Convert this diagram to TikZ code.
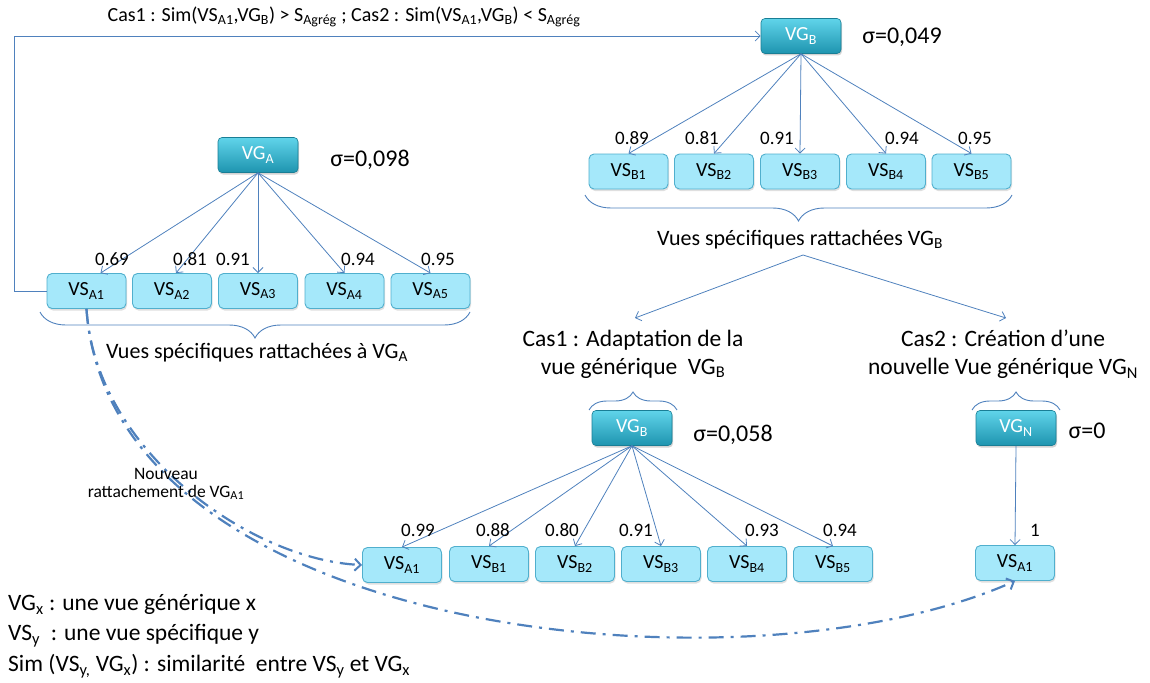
\documentclass[tikz,border=0pt]{standalone}
\usepackage{fontspec}
\setmainfont{Carlito}
\usetikzlibrary{arrows.meta,decorations.pathreplacing,shadows}
\definecolor{lineblue}{RGB}{79,129,189}
\definecolor{vgtop}{RGB}{96,212,234}
\definecolor{vgbot}{RGB}{30,148,175}
\definecolor{vsfill}{RGB}{165,232,250}
\definecolor{vsdraw}{RGB}{80,175,205}
\newcommand{\sbs}[1]{\textsubscript{#1}}
\begin{document}
\begin{tikzpicture}[x=1pt,y=-1pt,
  vgbox/.style={rounded corners=4pt, minimum width=80pt, minimum height=35pt, inner sep=0pt,
    top color=vgtop, bottom color=vgbot, draw=vgbot!85!black, line width=0.6pt, text=white,
    font=\fontsize{20}{22}\selectfont,
    drop shadow={opacity=0.35,shadow xshift=1pt,shadow yshift=-2pt}},
  vsbox/.style={rounded corners=5pt, minimum width=79pt, minimum height=35pt, inner sep=0pt,
    fill=vsfill, draw=vsdraw, line width=0.9pt, font=\fontsize{20}{22}\selectfont,
    drop shadow={opacity=0.25,shadow xshift=1pt,shadow yshift=-2pt}},
  conn/.style={draw=lineblue, line width=0.8pt, -{Straight Barb[length=5pt,width=10pt]}},
  dd/.style={draw=lineblue, line width=2.2pt, dash pattern=on 15pt off 7pt on 3pt off 7pt,
    -{Straight Barb[length=6pt,width=12pt,line width=2pt]}},
  wlab/.style={font=\fontsize{19}{22}\selectfont, inner sep=0pt},
  sig/.style={font=\fontsize{24}{28}\selectfont, inner sep=0pt},
  big/.style={font=\fontsize{22}{28}\selectfont, inner sep=0pt, align=center},
  cas/.style={font=\fontsize{23.5}{28}\selectfont, inner sep=0pt, align=center},
  brc/.style={draw=lineblue, line width=0.9pt, decorate, decoration={brace, amplitude=#1}},
]
\useasboundingbox (0,0) rectangle (1150,682);

% ---------- Tree A ----------
\node[vgbox] (vga) at (258,155) {VG\sbs{A}};
\node[sig] (siga) at (370,160) {σ=0,098};
\node[vsbox] (vsa1) at (86.5,291) {VS\sbs{A1}};
\node[vsbox] (vsa2) at (172,291) {VS\sbs{A2}};
\node[vsbox] (vsa3) at (258,291) {VS\sbs{A3}};
\node[vsbox] (vsa4) at (344.5,291) {VS\sbs{A4}};
\node[vsbox] (vsa5) at (430.5,291) {VS\sbs{A5}};
\draw[conn] (vga.south) -- ([xshift=14pt]vsa1.north);
\draw[conn] (vga.south) -- ([xshift=4pt]vsa2.north);
\draw[conn] (vga.south) -- (vsa3.north);
\draw[conn] (vga.south) -- (vsa4.north);
\draw[conn] (vga.south) -- (vsa5.north);
\node[wlab] (la1) at (112,259) {0.69};
\node[wlab] (la2) at (190,259) {0.81};
\node[wlab] (la3) at (233,259) {0.91};
\node[wlab] (la4) at (358,259) {0.94};
\node[wlab] (la5) at (438,259) {0.95};
\draw[brc=26pt] (470,312) -- (40,312);
\node[big] (rta) at (257,353) {Vues spécifiques rattachées à VG\sbs{A}};

% ---------- Top connector ----------
\node[font=\fontsize{20}{22}\selectfont, inner sep=0pt] (cond) at (344,17)
  {Cas1 : Sim(VS\sbs{A1},VG\sbs{B}) > S\sbs{Agrég} ; Cas2 : Sim(VS\sbs{A1},VG\sbs{B}) < S\sbs{Agrég}};

% ---------- Tree B ----------
\node[vgbox] (vgb) at (801,36) {VG\sbs{B}};
\node[sig] (sigb) at (902,37) {σ=0,049};
\draw[conn] (vsa1.west) -- ++(-32,0) |- (vgb.west);
\node[vsbox] (vsb1) at (628.5,171.5) {VS\sbs{B1}};
\node[vsbox] (vsb2) at (714,171.5) {VS\sbs{B2}};
\node[vsbox] (vsb3) at (800,171.5) {VS\sbs{B3}};
\node[vsbox] (vsb4) at (886,171.5) {VS\sbs{B4}};
\node[vsbox] (vsb5) at (971.5,171.5) {VS\sbs{B5}};
\foreach \i in {1,...,5} {\draw[conn] (vgb.south) -- (vsb\i.north);}
\node[wlab] (lb1) at (632,138) {0.89};
\node[wlab] (lb2) at (702,138) {0.81};
\node[wlab] (lb3) at (777,138) {0.91};
\node[wlab] (lb4) at (902,138) {0.94};
\node[wlab] (lb5) at (975,138) {0.95};
\draw[brc=26pt] (1012,195) -- (585,195);
\node[big] (rtb) at (800,240) {Vues spécifiques rattachées VG\sbs{B}};

% ---------- Split ----------
\coordinate (apex) at (803,255);
\coordinate (t1) at (635,318);
\coordinate (t2) at (1006,318);
\draw[conn] (apex) -- (t1);
\draw[conn] (apex) -- (t2);
\node[cas] (cas1) at (633,354) {Cas1 : Adaptation de la\\vue générique \ VG\sbs{B}};
\node[cas] (cas2) at (1003,354) {Cas2 : Création d’une\\nouvelle Vue générique VG\sbs{N}};
\draw[brc=18pt] (589,410) -- (677,410);
\draw[brc=18pt] (972,410) -- (1060,410);

% ---------- Case 1 tree ----------
\node[vgbox] (vgb2) at (632,428) {VG\sbs{B}};
\node[sig] (sigb2) at (733,435) {σ=0,058};
\node[vsbox] (vsa1b) at (402,565) {VS\sbs{A1}};
\node[vsbox] (vsb1b) at (489,564) {VS\sbs{B1}};
\node[vsbox] (vsb2b) at (575,564) {VS\sbs{B2}};
\node[vsbox] (vsb3b) at (661,564) {VS\sbs{B3}};
\node[vsbox] (vsb4b) at (747,564) {VS\sbs{B4}};
\node[vsbox] (vsb5b) at (833,564) {VS\sbs{B5}};
\foreach \n in {vsa1b,vsb1b,vsb2b,vsb3b,vsb4b,vsb5b} {\draw[conn] (vgb2.south) -- (\n.north);}
\node[wlab] (lc1) at (418,530) {0.99};
\node[wlab] (lc2) at (493,530) {0.88};
\node[wlab] (lc3) at (562,530) {0.80};
\node[wlab] (lc4) at (636,530) {0.91};
\node[wlab] (lc5) at (762,530) {0.93};
\node[wlab] (lc6) at (840,530) {0.94};

% ---------- Case 2 tree ----------
\node[vgbox] (vgn) at (1016,428) {VG\sbs{N}};
\node[sig] (sign) at (1087,431) {σ=0};
\node[vsbox] (vsn1) at (1015,563) {VS\sbs{A1}};
\draw[conn] (vgn.south) -- (vsn1.north);
\node[wlab] (ln1) at (1035,530) {1};

% ---------- Reattachment curves ----------
\draw[dd] (vsa1.south) .. controls (95,450) and (250,560) .. (vsa1b.west);
\draw[dd] (vsa1.south) .. controls (110,640) and (750,700) .. (vsn1.south);
\node[font=\fontsize{17.5}{18}\selectfont, align=center, inner sep=0pt] (nouv) at (166,484)
  {Nouveau\\rattachement de VG\sbs{A1}};

% ---------- Legend ----------
\node[font=\fontsize{23.5}{30.5}\selectfont, align=left, anchor=north west, inner sep=0pt] (leg) at (8,594)
  {VG\sbs{x} : une vue générique x\\VS\sbs{y} \ : une vue spécifique y\\Sim (VS\sbs{y,} VG\sbs{x}) : similarité \ entre VS\sbs{y} et VG\sbs{x}};
\end{tikzpicture}
\end{document}
